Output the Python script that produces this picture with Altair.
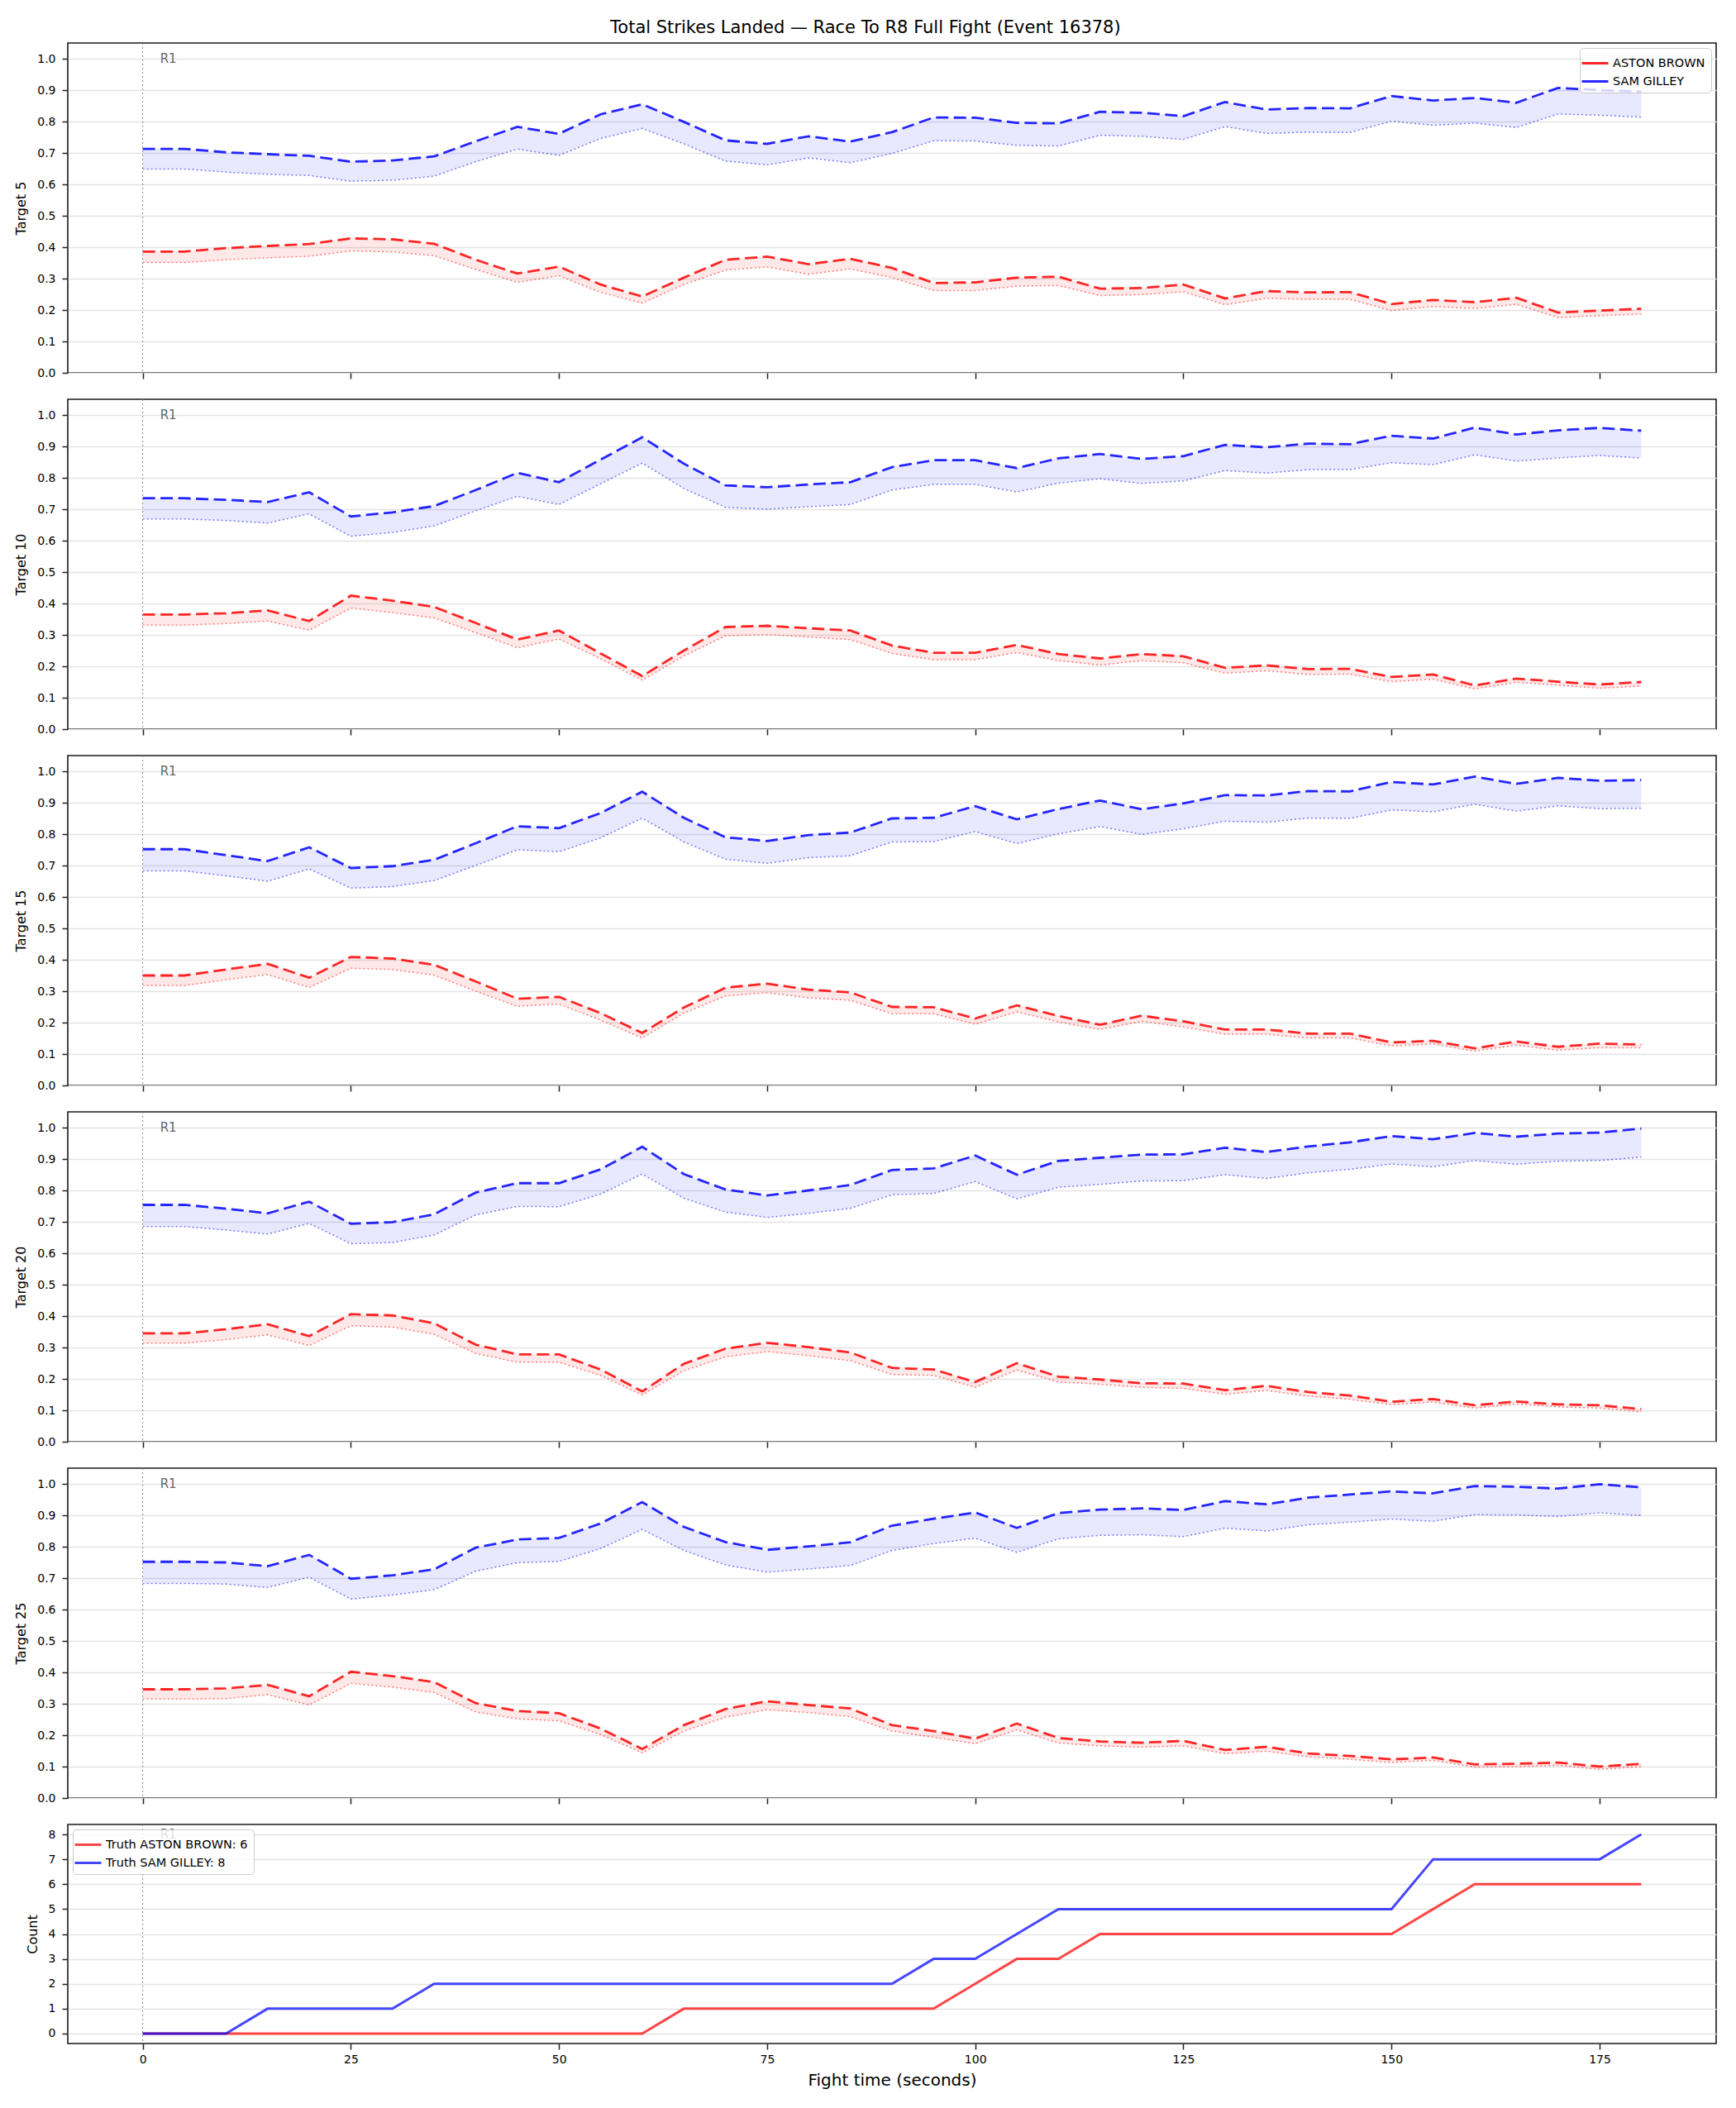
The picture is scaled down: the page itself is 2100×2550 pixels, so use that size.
import altair as alt
import pandas as pd

FONT = "DejaVu Sans"

# Fight clock (seconds), sampled every 5 s
times = [0, 5, 10, 15, 20, 25, 30, 35, 40, 45, 50, 55, 60, 65, 70, 75, 80, 85, 90,
         95, 100, 105, 110, 115, 120, 125, 130, 135, 140, 145, 150, 155, 160, 165,
         170, 175, 180]

fighters = ["ASTON BROWN", "SAM GILLEY"]
fighter_colors = ["#ff0000", "#0000ff"]
round_labels = ["R1"]

# Probability bands (upper = dashed, lower = dotted) per target
t5_brown_hi = [0.386, 0.386, 0.397, 0.404, 0.410, 0.428, 0.425, 0.411, 0.360, 0.316, 0.338, 0.281, 0.243, 0.303, 0.360, 0.370, 0.346, 0.363, 0.334, 0.286, 0.288, 0.303, 0.306, 0.268, 0.270, 0.281, 0.237, 0.260, 0.256, 0.257, 0.219, 0.232, 0.225, 0.239, 0.192, 0.198, 0.204]
t5_brown_lo = [0.351, 0.351, 0.360, 0.366, 0.371, 0.388, 0.385, 0.373, 0.329, 0.288, 0.309, 0.256, 0.222, 0.281, 0.327, 0.337, 0.314, 0.331, 0.303, 0.262, 0.262, 0.276, 0.278, 0.246, 0.249, 0.258, 0.217, 0.237, 0.234, 0.234, 0.198, 0.211, 0.205, 0.218, 0.176, 0.182, 0.187]
t5_gilley_hi = [0.713, 0.713, 0.702, 0.696, 0.691, 0.672, 0.676, 0.689, 0.737, 0.783, 0.761, 0.823, 0.855, 0.799, 0.740, 0.729, 0.753, 0.736, 0.766, 0.813, 0.812, 0.796, 0.794, 0.831, 0.828, 0.817, 0.862, 0.838, 0.843, 0.842, 0.881, 0.867, 0.875, 0.860, 0.907, 0.900, 0.895]
t5_gilley_lo = [0.649, 0.649, 0.639, 0.632, 0.628, 0.610, 0.613, 0.626, 0.672, 0.712, 0.692, 0.746, 0.778, 0.729, 0.674, 0.662, 0.684, 0.669, 0.698, 0.739, 0.738, 0.724, 0.722, 0.756, 0.753, 0.743, 0.784, 0.762, 0.766, 0.765, 0.801, 0.788, 0.795, 0.781, 0.824, 0.820, 0.814]

t10_brown_hi = [0.365, 0.365, 0.369, 0.378, 0.344, 0.425, 0.409, 0.389, 0.338, 0.285, 0.314, 0.241, 0.169, 0.250, 0.325, 0.329, 0.321, 0.314, 0.266, 0.243, 0.243, 0.268, 0.239, 0.225, 0.239, 0.232, 0.195, 0.203, 0.191, 0.192, 0.166, 0.174, 0.139, 0.161, 0.151, 0.142, 0.150]
t10_brown_lo = [0.331, 0.331, 0.336, 0.344, 0.315, 0.385, 0.371, 0.354, 0.307, 0.259, 0.287, 0.224, 0.156, 0.233, 0.297, 0.301, 0.293, 0.285, 0.241, 0.221, 0.221, 0.244, 0.218, 0.204, 0.218, 0.211, 0.178, 0.186, 0.174, 0.175, 0.151, 0.159, 0.128, 0.149, 0.140, 0.130, 0.137]
t10_gilley_hi = [0.735, 0.735, 0.730, 0.723, 0.754, 0.677, 0.690, 0.710, 0.761, 0.816, 0.786, 0.858, 0.929, 0.845, 0.776, 0.770, 0.779, 0.786, 0.834, 0.856, 0.856, 0.831, 0.862, 0.876, 0.860, 0.869, 0.905, 0.897, 0.909, 0.907, 0.934, 0.925, 0.960, 0.938, 0.951, 0.959, 0.950]
t10_gilley_lo = [0.669, 0.669, 0.664, 0.656, 0.685, 0.614, 0.626, 0.647, 0.695, 0.741, 0.715, 0.781, 0.847, 0.766, 0.706, 0.700, 0.708, 0.715, 0.761, 0.779, 0.779, 0.755, 0.783, 0.797, 0.782, 0.790, 0.823, 0.815, 0.826, 0.826, 0.848, 0.842, 0.873, 0.853, 0.863, 0.871, 0.863]

t15_brown_hi = [0.350, 0.350, 0.369, 0.387, 0.343, 0.409, 0.404, 0.384, 0.331, 0.276, 0.282, 0.230, 0.167, 0.248, 0.311, 0.324, 0.305, 0.296, 0.250, 0.249, 0.213, 0.255, 0.221, 0.193, 0.222, 0.204, 0.178, 0.178, 0.165, 0.165, 0.137, 0.142, 0.118, 0.140, 0.123, 0.133, 0.130]
t15_brown_lo = [0.318, 0.318, 0.336, 0.353, 0.312, 0.373, 0.369, 0.351, 0.300, 0.252, 0.259, 0.208, 0.151, 0.230, 0.285, 0.295, 0.279, 0.271, 0.228, 0.228, 0.195, 0.234, 0.202, 0.178, 0.204, 0.186, 0.163, 0.163, 0.151, 0.151, 0.126, 0.132, 0.109, 0.128, 0.112, 0.120, 0.120]
t15_gilley_hi = [0.752, 0.752, 0.733, 0.714, 0.758, 0.692, 0.698, 0.718, 0.771, 0.825, 0.819, 0.867, 0.935, 0.852, 0.790, 0.778, 0.797, 0.805, 0.850, 0.852, 0.889, 0.847, 0.880, 0.907, 0.879, 0.898, 0.924, 0.923, 0.937, 0.936, 0.966, 0.958, 0.983, 0.960, 0.979, 0.970, 0.972]
t15_gilley_lo = [0.683, 0.683, 0.667, 0.650, 0.689, 0.628, 0.633, 0.652, 0.700, 0.750, 0.744, 0.788, 0.851, 0.775, 0.720, 0.707, 0.725, 0.731, 0.775, 0.776, 0.808, 0.770, 0.801, 0.824, 0.799, 0.817, 0.841, 0.838, 0.851, 0.850, 0.877, 0.871, 0.895, 0.873, 0.890, 0.881, 0.882]

t20_brown_hi = [0.345, 0.345, 0.358, 0.374, 0.336, 0.406, 0.402, 0.377, 0.309, 0.278, 0.278, 0.230, 0.160, 0.248, 0.296, 0.315, 0.301, 0.284, 0.235, 0.230, 0.190, 0.250, 0.207, 0.198, 0.186, 0.185, 0.164, 0.178, 0.158, 0.147, 0.127, 0.136, 0.116, 0.128, 0.119, 0.116, 0.104]
t20_brown_lo = [0.314, 0.314, 0.325, 0.340, 0.306, 0.369, 0.365, 0.342, 0.281, 0.253, 0.253, 0.211, 0.149, 0.226, 0.270, 0.287, 0.274, 0.258, 0.214, 0.211, 0.173, 0.228, 0.190, 0.183, 0.173, 0.170, 0.151, 0.163, 0.145, 0.135, 0.118, 0.126, 0.107, 0.120, 0.111, 0.107, 0.095]
t20_gilley_hi = [0.754, 0.754, 0.742, 0.727, 0.764, 0.694, 0.699, 0.724, 0.793, 0.823, 0.823, 0.867, 0.939, 0.852, 0.803, 0.784, 0.800, 0.817, 0.865, 0.870, 0.911, 0.850, 0.894, 0.904, 0.914, 0.915, 0.936, 0.922, 0.940, 0.953, 0.973, 0.963, 0.983, 0.971, 0.981, 0.984, 0.997]
t20_gilley_lo = [0.685, 0.685, 0.674, 0.661, 0.695, 0.630, 0.634, 0.658, 0.722, 0.749, 0.748, 0.788, 0.852, 0.775, 0.731, 0.714, 0.727, 0.743, 0.786, 0.790, 0.828, 0.773, 0.810, 0.819, 0.830, 0.831, 0.850, 0.838, 0.856, 0.867, 0.884, 0.875, 0.895, 0.883, 0.893, 0.895, 0.906]

t25_brown_hi = [0.346, 0.346, 0.349, 0.360, 0.324, 0.402, 0.388, 0.369, 0.302, 0.277, 0.270, 0.221, 0.156, 0.232, 0.283, 0.308, 0.296, 0.285, 0.232, 0.213, 0.189, 0.237, 0.191, 0.180, 0.176, 0.182, 0.153, 0.163, 0.142, 0.134, 0.123, 0.129, 0.107, 0.109, 0.113, 0.100, 0.109]
t25_brown_lo = [0.315, 0.315, 0.316, 0.329, 0.296, 0.365, 0.353, 0.336, 0.274, 0.252, 0.246, 0.202, 0.144, 0.213, 0.257, 0.281, 0.272, 0.259, 0.213, 0.193, 0.173, 0.217, 0.175, 0.166, 0.162, 0.166, 0.141, 0.149, 0.131, 0.123, 0.113, 0.120, 0.098, 0.100, 0.104, 0.091, 0.100]
t25_gilley_hi = [0.752, 0.752, 0.750, 0.738, 0.774, 0.698, 0.709, 0.728, 0.797, 0.823, 0.828, 0.874, 0.942, 0.863, 0.815, 0.790, 0.801, 0.814, 0.867, 0.889, 0.909, 0.860, 0.907, 0.918, 0.922, 0.917, 0.945, 0.935, 0.956, 0.966, 0.976, 0.970, 0.993, 0.991, 0.985, 0.999, 0.989]
t25_gilley_lo = [0.683, 0.683, 0.681, 0.670, 0.703, 0.633, 0.646, 0.663, 0.722, 0.749, 0.753, 0.794, 0.855, 0.788, 0.742, 0.719, 0.729, 0.740, 0.788, 0.810, 0.827, 0.782, 0.825, 0.836, 0.838, 0.832, 0.859, 0.850, 0.870, 0.878, 0.888, 0.881, 0.902, 0.901, 0.896, 0.908, 0.899]

# Cumulative landed strikes
truth_labels = ["Truth ASTON BROWN: 6", "Truth SAM GILLEY: 8"]
truth_brown = [0, 0, 0, 0, 0, 0, 0, 0, 0, 0, 0, 0, 0, 1, 1, 1, 1, 1, 1, 1, 2, 3, 3,
               4, 4, 4, 4, 4, 4, 4, 4, 5, 6, 6, 6, 6, 6]
truth_gilley = [0, 0, 0, 1, 1, 1, 1, 2, 2, 2, 2, 2, 2, 2, 2, 2, 2, 2, 2, 3, 3, 4, 5,
                5, 5, 5, 5, 5, 5, 5, 5, 7, 7, 7, 7, 7, 8]

targets = [
    ("Target 5", t5_brown_hi, t5_brown_lo, t5_gilley_hi, t5_gilley_lo),
    ("Target 10", t10_brown_hi, t10_brown_lo, t10_gilley_hi, t10_gilley_lo),
    ("Target 15", t15_brown_hi, t15_brown_lo, t15_gilley_hi, t15_gilley_lo),
    ("Target 20", t20_brown_hi, t20_brown_lo, t20_gilley_hi, t20_gilley_lo),
    ("Target 25", t25_brown_hi, t25_brown_lo, t25_gilley_hi, t25_gilley_lo),
]

PANEL_W = 1994
PANEL_H = 399
COUNT_H = 265

x_scale = alt.Scale(domain=[-9, 189], nice=False, zero=False)
x_ticks = [0, 25, 50, 75, 100, 125, 150, 175]
x_axis_hidden = alt.Axis(values=x_ticks, tickCount=20, labels=False, title=None, grid=False)
x_axis_bottom = alt.Axis(values=x_ticks, tickCount=20, format="d", grid=False,
                         title="Fight time (seconds)", titleFontSize=20,
                         labelPadding=5, titlePadding=8)

prob_scale = alt.Scale(domain=[0, 1.05], nice=False, zero=False)
prob_ticks = [0.0, 0.1, 0.2, 0.3, 0.4, 0.5, 0.6, 0.7, 0.8, 0.9, 1.0]
count_ticks = [0, 1, 2, 3, 4, 5, 6, 7, 8]

# short horizontal stroke used as the legend key
legend_key = "M-1.6,0H1.6"
legend_style = dict(
    title=None, symbolType=legend_key, symbolStrokeWidth=3, symbolDash=[1, 0],
    symbolSize=400, labelFontSize=14.5, labelFont=FONT, labelColor="#000",
    labelOffset=10, labelLimit=0, fillColor="rgba(255,255,255,0.8)",
    strokeColor="#cccccc", cornerRadius=4, padding=7, rowPadding=4, offset=6,
)


def round_marker(x_enc, y_value, y_scale, y_axis):
    rule = alt.Chart(pd.DataFrame({"t": [0]})).mark_rule(
        color="#888888", strokeWidth=1, strokeDash=[2, 3]
    ).encode(x=alt.X("t:Q", scale=x_scale, axis=x_enc))
    label = alt.Chart(pd.DataFrame({"t": [0], "v": [y_value], "lab": round_labels})).mark_text(
        align="left", baseline="middle", dx=21, fontSize=15, font=FONT, color="#666666"
    ).encode(x=alt.X("t:Q", scale=x_scale, axis=x_enc),
             y=alt.Y("v:Q", scale=y_scale, axis=y_axis), text="lab:N")
    return rule, label


def target_panel(title, b_hi, b_lo, g_hi, g_lo, with_legend):
    y_axis = alt.Axis(values=prob_ticks, tickCount=20, labelOverlap=False,
                      format=".1f", title=title)
    layers = []
    for color, hi, lo in [(fighter_colors[0], b_hi, b_lo), (fighter_colors[1], g_hi, g_lo)]:
        d = pd.DataFrame({"time": times, "hi": hi, "lo": lo})
        band = alt.Chart(d).mark_area(color=color, opacity=0.09).encode(
            x=alt.X("time:Q", scale=x_scale, axis=x_axis_hidden),
            y=alt.Y("lo:Q", scale=prob_scale, axis=y_axis),
            y2="hi:Q",
        )
        lower = alt.Chart(d).mark_line(color=color, opacity=0.5, strokeWidth=1.5,
                                       strokeDash=[2, 3]).encode(
            x=alt.X("time:Q", scale=x_scale, axis=x_axis_hidden),
            y=alt.Y("lo:Q", scale=prob_scale, axis=y_axis),
        )
        layers += [band, lower]

    upper_df = pd.DataFrame({
        "time": times + times,
        "fighter": [fighters[0]] * len(times) + [fighters[1]] * len(times),
        "hi": b_hi + g_hi,
    })
    legend = alt.Legend(orient="top-right", **legend_style) if with_legend else None
    upper = alt.Chart(upper_df).mark_line(strokeWidth=2.8, opacity=0.85,
                                          strokeDash=[15, 6.5]).encode(
        x=alt.X("time:Q", scale=x_scale, axis=x_axis_hidden),
        y=alt.Y("hi:Q", scale=prob_scale, axis=y_axis),
        color=alt.Color("fighter:N", scale=alt.Scale(domain=fighters, range=fighter_colors),
                        legend=legend),
    )
    rule, label = round_marker(x_axis_hidden, 1.0, prob_scale, y_axis)
    return alt.layer(*layers, upper, rule, label).properties(width=PANEL_W, height=PANEL_H)


panels = [target_panel(t, bh, bl, gh, gl, i == 0) for i, (t, bh, bl, gh, gl) in enumerate(targets)]

count_scale = alt.Scale(domain=[-0.4, 8.4], nice=False, zero=False)
count_axis = alt.Axis(values=count_ticks, tickCount=20, labelOverlap=False,
                      format="d", title="Count")
count_df = pd.DataFrame({
    "time": times + times,
    "series": [truth_labels[0]] * len(times) + [truth_labels[1]] * len(times),
    "count": truth_brown + truth_gilley,
})
count_lines = alt.Chart(count_df).mark_line(strokeWidth=3, opacity=0.72).encode(
    x=alt.X("time:Q", scale=x_scale, axis=x_axis_bottom),
    y=alt.Y("count:Q", scale=count_scale, axis=count_axis),
    color=alt.Color("series:N", scale=alt.Scale(domain=truth_labels, range=fighter_colors),
                    legend=alt.Legend(orient="top-left", **legend_style)),
)
c_rule, c_label = round_marker(x_axis_bottom, 8.0, count_scale, count_axis)
count_panel = alt.layer(c_rule, c_label, count_lines).properties(width=PANEL_W, height=COUNT_H)

chart = alt.vconcat(*panels, count_panel, spacing=21).resolve_scale(
    color="independent"
).resolve_legend(color="independent").properties(
    title=alt.TitleParams(
        "Total Strikes Landed \u2014 Race To R8 Full Fight (Event 16378)",
        fontSize=21, font=FONT, fontWeight="normal", anchor="middle", color="#000",
        offset=7,
    ),
    padding={"left": 16, "top": 22, "right": 20, "bottom": 10},
).configure(
    font=FONT,
).configure_view(
    stroke="#1a1a1a", strokeWidth=1.6,
).configure_axis(
    domain=False, tickColor="#222222", tickWidth=1.5, tickSize=7,
    labelFont=FONT, labelFontSize=14, labelColor="#000", labelPadding=8,
    labelOverlap=False,
    titleFont=FONT, titleFontSize=16, titleFontWeight="normal", titleColor="#000",
    titlePadding=11, gridColor="#e3e3e3", gridWidth=1.4,
)

chart.save("out.html", embed_options={"renderer": "svg", "actions": False})
